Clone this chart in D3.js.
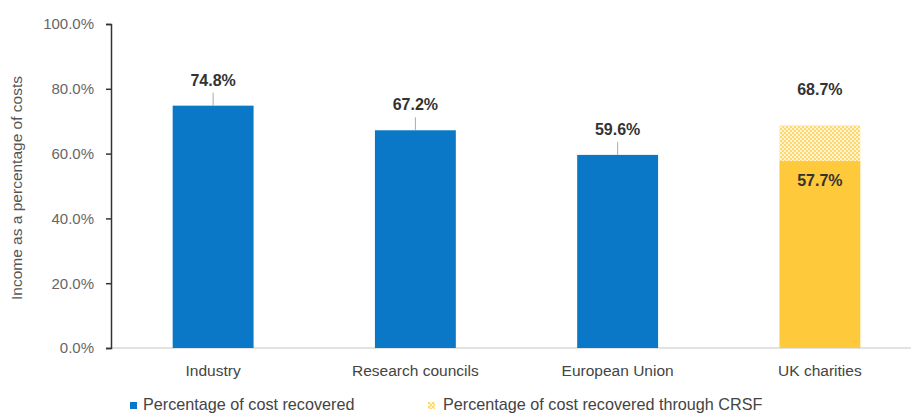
<!DOCTYPE html>
<html>
<head>
<meta charset="utf-8">
<script src="https://cdn.jsdelivr.net/npm/d3@7"></script>
<style>
  body { margin: 0; background: #fff; }
  text { font-family: "Liberation Sans", Arial, sans-serif; }
</style>
</head>
<body>
<svg id="chart" width="911" height="417"></svg>
<script>
const categories = ["Industry", "Research councils", "European Union", "UK charities"];
const recovered = [74.8, 67.2, 59.6, 57.7];
const crsfTotal = [null, null, null, 68.7];
const yTicks = [0, 20, 40, 60, 80, 100];
const legendLabels = ["Percentage of cost recovered", "Percentage of cost recovered through CRSF"];

const blue = "#0a78c6";
const yellow = "#ffc93c";

const svg = d3.select("#chart");

const x = d3.scaleBand().domain(categories).range([112, 921]).paddingInner(0.6).paddingOuter(0.3);
const y = d3.scaleLinear().domain([0, 100]).range([348, 24]);

// dotted fill for the CRSF part
const defs = svg.append("defs");
const pat = defs.append("pattern")
  .attr("id", "dots")
  .attr("width", 4)
  .attr("height", 4)
  .attr("patternUnits", "userSpaceOnUse");
pat.append("rect").attr("width", 4).attr("height", 4).attr("fill", "#fff6dc");
pat.append("circle").attr("cx", 1).attr("cy", 1).attr("r", 1.2).attr("fill", "#ffd86a");
pat.append("circle").attr("cx", 3).attr("cy", 3).attr("r", 1.2).attr("fill", "#ffd86a");

// baseline
svg.append("line")
  .attr("x1", 111).attr("x2", 911)
  .attr("y1", y(0)).attr("y2", y(0))
  .attr("stroke", "#d9d9d9").attr("stroke-width", 1.5);

// y axis
const yAxis = svg.append("g")
  .attr("transform", "translate(111,0)")
  .call(d3.axisLeft(y).tickValues(yTicks).tickFormat(d => d.toFixed(1) + "%").tickSize(5).tickSizeOuter(5));
yAxis.select(".domain").attr("stroke", "#333").attr("stroke-width", 1.5);
yAxis.selectAll(".tick line").attr("stroke", "#333").attr("stroke-width", 1.5);
yAxis.selectAll(".tick text")
  .attr("x", -17)
  .attr("fill", "#666")
  .style("font-size", "15px");

svg.append("text")
  .attr("transform", `translate(22,${(y(0) + y(100)) / 2 + 2}) rotate(-90)`)
  .attr("text-anchor", "middle")
  .attr("fill", "#555")
  .style("font-size", "15.5px")
  .text("Income as a percentage of costs");

// CRSF stacked part
categories.forEach((c, i) => {
  if (crsfTotal[i] == null) return;
  svg.append("rect")
    .attr("x", x(c))
    .attr("width", x.bandwidth())
    .attr("y", y(crsfTotal[i]))
    .attr("height", y(recovered[i]) - y(crsfTotal[i]))
    .attr("fill", "url(#dots)");
});

// main bars
svg.selectAll(".bar")
  .data(categories)
  .enter()
  .append("rect")
  .attr("class", "bar")
  .attr("x", d => x(d))
  .attr("width", x.bandwidth())
  .attr("y", (d, i) => y(recovered[i]))
  .attr("height", (d, i) => y(0) - y(recovered[i]))
  .attr("fill", (d, i) => crsfTotal[i] == null ? blue : yellow);

// value labels
categories.forEach((c, i) => {
  const cx = x(c) + x.bandwidth() / 2;
  if (crsfTotal[i] == null) {
    svg.append("line")
      .attr("x1", cx).attr("x2", cx)
      .attr("y1", y(recovered[i]) - 13).attr("y2", y(recovered[i]))
      .attr("stroke", "#aaa").attr("stroke-width", 1);
    svg.append("text")
      .attr("x", cx)
      .attr("y", y(recovered[i]) - 20)
      .attr("text-anchor", "middle")
      .attr("fill", "#333")
      .style("font-size", "16px")
      .style("font-weight", "bold")
      .text(recovered[i].toFixed(1) + "%");
  } else {
    svg.append("text")
      .attr("x", cx)
      .attr("y", y(crsfTotal[i]) - 30)
      .attr("text-anchor", "middle")
      .attr("fill", "#333")
      .style("font-size", "16px")
      .style("font-weight", "bold")
      .text(crsfTotal[i].toFixed(1) + "%");
    svg.append("text")
      .attr("x", cx)
      .attr("y", y(recovered[i]) + 25)
      .attr("text-anchor", "middle")
      .attr("fill", "#333")
      .style("font-size", "16px")
      .style("font-weight", "bold")
      .text(recovered[i].toFixed(1) + "%");
  }
});

// category labels
svg.selectAll(".cat")
  .data(categories)
  .enter()
  .append("text")
  .attr("class", "cat")
  .attr("x", d => x(d) + x.bandwidth() / 2)
  .attr("y", 376)
  .attr("text-anchor", "middle")
  .attr("fill", "#444")
  .style("font-size", "15.5px")
  .text(d => d);

// legend
const lg = svg.append("g").attr("transform", "translate(0,410)");
lg.append("rect").attr("x", 130).attr("y", -8).attr("width", 7).attr("height", 7).attr("fill", blue);
lg.append("text").attr("x", 143).attr("y", 0).attr("fill", "#444").style("font-size", "16.2px").text(legendLabels[0]);
lg.append("rect").attr("x", 428).attr("y", -8).attr("width", 7).attr("height", 7).attr("fill", "url(#dots)");
lg.append("text").attr("x", 443).attr("y", 0).attr("fill", "#444").style("font-size", "16.2px").text(legendLabels[1]);
</script>
</body>
</html>
